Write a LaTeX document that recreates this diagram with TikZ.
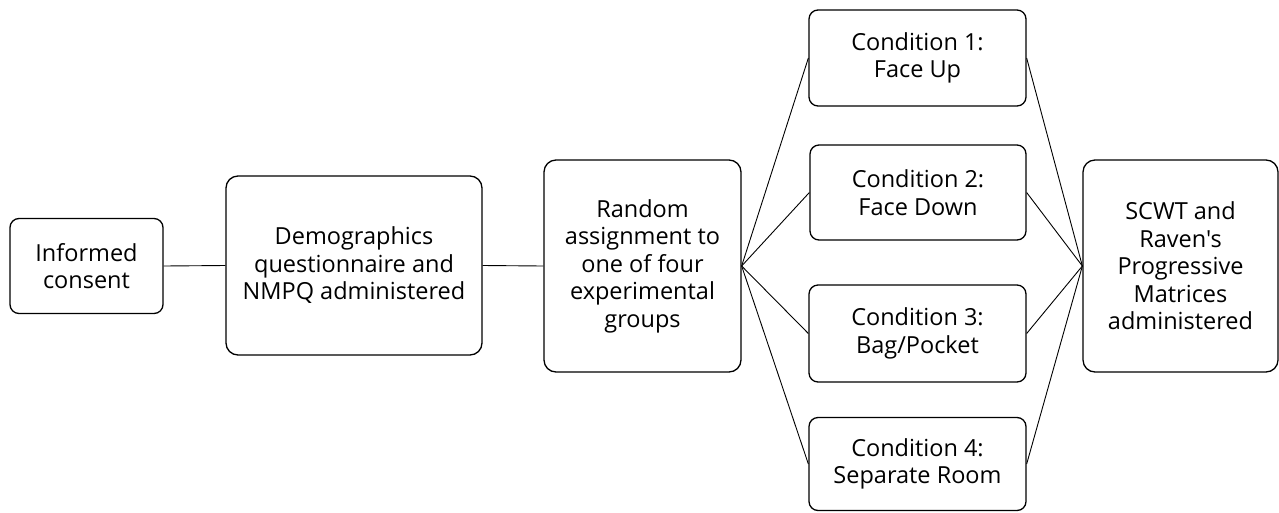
\documentclass[tikz,border=0pt]{standalone}
\usepackage{fontspec}
\setmainfont{Open Sans}[Ligatures=TeXOff]
\begin{document}
\begin{tikzpicture}[x=1pt,y=-1pt,
  box/.style={draw=black,line width=1.3pt,rounded corners=9pt,align=center,inner sep=0pt,
    font=\fontsize{23.5}{27.5}\selectfont},
  conn/.style={draw=black,line width=0.9pt}]
\useasboundingbox[fill=white] (0,0) rectangle (1279,512);
\node[box,minimum width=153pt,minimum height=95pt] (ic) at (86.5,266) {Informed\\consent};
\node[box,minimum width=256pt,minimum height=179pt,rounded corners=12pt] (demo) at (354,265.5) {Demographics\\questionnaire and\\NMPQ administered};
\node[box,minimum width=197pt,minimum height=212pt,rounded corners=12pt] (rand) at (642.5,266) {Random\\assignment to\\one of four\\experimental\\groups};
\node[box,minimum width=217pt,minimum height=96pt] (c1) at (917.5,58) {Condition 1:\\Face Up};
\node[box,minimum width=216pt,minimum height=95pt] (c2) at (918,192.5) {Condition 2:\\Face Down};
\node[box,minimum width=217pt,minimum height=97pt] (c3) at (917.5,333.5) {Condition 3:\\Bag/Pocket};
\node[box,minimum width=217pt,minimum height=93pt] (c4) at (917.5,464) {Condition 4:\\Separate Room};
\node[box,minimum width=195pt,minimum height=212pt,rounded corners=12pt] (sc) at (1180.5,266) {SCWT and\\Raven's\\Progressive\\Matrices\\administered};
\draw[conn] (ic.east) -- (demo.west);
\draw[conn] (demo.east) -- (rand.west);
\foreach \c in {c1,c2,c3,c4}{
  \draw[conn] (rand.east) -- (\c.west);
  \draw[conn] (\c.east) -- (sc.west);
}
\end{tikzpicture}
\end{document}
